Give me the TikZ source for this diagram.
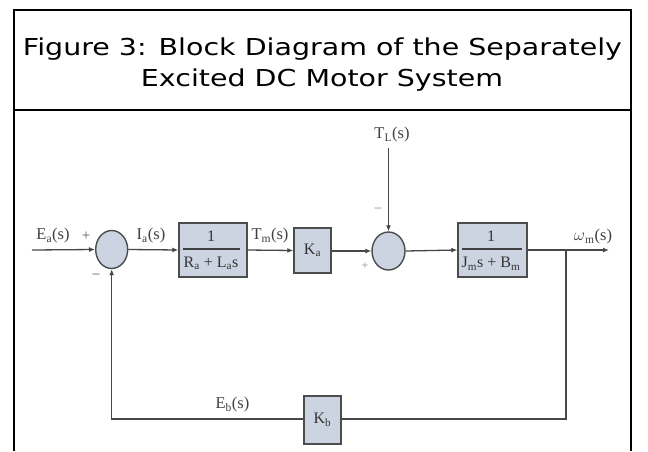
\documentclass[tikz,border=0pt]{standalone}
\usepackage{fontspec}
\setmainfont{Liberation Serif}
\newfontfamily\titlefont{DejaVu Sans}
\usetikzlibrary{arrows.meta,shapes.geometric,calc}
\definecolor{blkfill}{RGB}{204,212,226}
\newsavebox{\tlineA}
\newsavebox{\tlineB}
\begin{document}
\sbox{\tlineA}{\titlefont\fontsize{23.3}{28}\selectfont Figure 3: Block Diagram of the Separately}%
\sbox{\tlineB}{\titlefont\fontsize{23.3}{28}\selectfont Excited DC Motor System}%
\pgfmathsetmacro\tratio{599/\wd\tlineA}%
\begin{tikzpicture}[x=1pt,y=-1pt,
  frameline/.style={line width=1.6pt,black},
  wire/.style={line width=1.3pt,draw=black!72},
  arr/.style={wire,-{Latex[length=6pt,width=5pt]}},
  blk/.style={draw=black!70,line width=1.4pt,fill=blkfill,rectangle,inner sep=0pt,text=black!80,font=\fontsize{16}{17}\selectfont},
  sumj/.style={draw=black!70,line width=1.4pt,fill=blkfill,ellipse,inner sep=0pt},
  frac/.style={text=black!80,inner sep=0pt,font=\fontsize{16}{17}\selectfont},
  lbl/.style={text=black!75,inner sep=0pt,font=\fontsize{16.5}{17}\selectfont},
  sgn/.style={text=black!65,inner sep=0pt,font=\fontsize{15}{16}\selectfont}]
\useasboundingbox (0,0) rectangle (648,451);
\fill[white] (0,0) rectangle (648,451);
% frame
\draw[frameline] (14,451) -- (14,10) -- (631,10) -- (631,451);
\draw[frameline] (14,110) -- (631,110);
% title
\node[anchor=base,inner sep=0pt,text=black!88] (t1) at (322.5,55) {\scalebox{\tratio}[1]{\usebox{\tlineA}}};
\node[anchor=base,inner sep=0pt,text=black!88] (t2) at (322,86) {\scalebox{\tratio}[1]{\usebox{\tlineB}}};
% blocks
\coordinate (in) at (32,250);
\node[sumj,minimum width=32pt,minimum height=38pt] (s1) at (111.7,249.5) {};
\node[blk,minimum width=68pt,minimum height=54pt] (g1) at (213,250) {};
\node[frac] (g1n) at (211,236) {1};
\node[frac] (g1d) at (211,263.5) {R\textsubscript{a} + L\textsubscript{a}s};
\draw[line width=1.1pt,black!75] (183,249) -- (240,249);
\node[blk,minimum width=37pt,minimum height=45pt] (ka) at (312.5,250.5) {K\textsubscript{a}};
\node[sumj,minimum width=33pt,minimum height=38pt] (s2) at (388.5,251) {};
\node[blk,minimum width=69pt,minimum height=54pt] (g2) at (492.5,250) {};
\node[frac] (g2n) at (491,236) {1};
\node[frac] (g2d) at (491,263.5) {J\textsubscript{m}s + B\textsubscript{m}};
\draw[line width=1.1pt,black!75] (462,249) -- (522,249);
\node[blk,minimum width=37pt,minimum height=48pt] (kb) at (322.5,420) {K\textsubscript{b}};
\coordinate (tl) at (388.5,148);
\coordinate (br) at (566,250);
\coordinate (out) at (609,250);
\coordinate (bl) at (566,419);
\coordinate (fl) at (111.7,419);
% connectors
\draw[arr] (in) -- (s1.west);
\draw[arr] (s1.east) -- (g1.west);
\draw[arr] (g1.east) -- (ka.west);
\draw[arr] (ka.east |- s2.west) -- (s2.west);
\draw[arr] (tl) -- (s2.north);
\draw[arr] (s2.east) -- (g2.west);
\draw[arr] (g2.east) -- (out);
\draw[wire] (br) -- (bl) -- (kb.east |- bl);
\draw[arr] (kb.west |- fl) -- (fl) -- (s1.south);
% labels
\node[lbl] (lea) at (53,236) {E\textsubscript{a}(s)};
\node[sgn] (p1) at (86,236) {+};
\node[sgn] (m1) at (96,277) {\textminus};
\node[lbl] (lia) at (151,236) {I\textsubscript{a}(s)};
\node[lbl] (ltm) at (270,236) {T\textsubscript{m}(s)};
\node[sgn,text=black!45,font=\fontsize{12}{13}\selectfont] (p2) at (365,266) {+};
\node[sgn,text=black!45] (m2) at (378,211) {\textminus};
\node[lbl] (ltl) at (392,135) {T\textsubscript{L}(s)};
\node[lbl] (lw) at (593,237) {$\omega$\textsubscript{m}(s)};
\node[lbl] (leb) at (232.5,405) {E\textsubscript{b}(s)};
\end{tikzpicture}
\end{document}
